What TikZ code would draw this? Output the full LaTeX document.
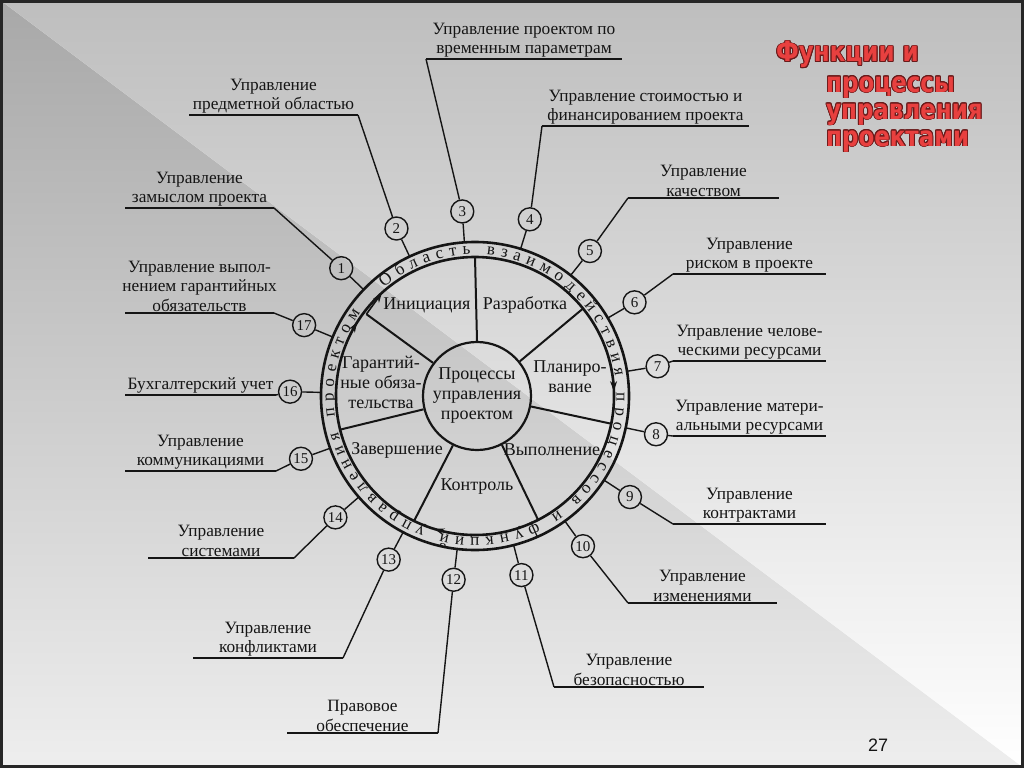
\documentclass[tikz,border=0pt]{standalone}
\usepackage{fontspec}
\setmainfont{Liberation Serif}
\newfontfamily\titlefont{DejaVu Sans}[FakeStretch=0.82]
\newfontfamily\pagenofont{Liberation Sans}
\usepackage[copies]{contour}
\contourlength{0.9pt}
\usetikzlibrary{decorations.text,arrows.meta,calc}
\definecolor{ink}{HTML}{151515}
\definecolor{titlered}{HTML}{E8403F}
\definecolor{titleedge}{HTML}{6A1A1A}
\definecolor{bgdark}{HTML}{A8A8A8}
\definecolor{bglow}{HTML}{EEEEEE}
\definecolor{bgtop}{HTML}{BEBEBE}
\newcommand{\lblfont}{\fontsize{17.3}{19.5}\selectfont}
\newcommand{\numfont}{\fontsize{15}{15}\selectfont}
\newcommand{\sectfont}{\fontsize{18}{20}\selectfont}
\newcommand{\ringfont}{\fontsize{17}{17}\selectfont}
\tikzset{
  lbl/.style={font=\lblfont, align=center, anchor=south, inner sep=0pt, text=ink},
  numc/.style={circle, draw=ink, line width=1.4pt, minimum size=23pt, inner sep=0pt, font=\numfont, text=ink},
  conn/.style={draw=ink, line width=1.4pt},
  uline/.style={draw=ink, line width=1.6pt},
  spoke/.style={draw=ink, line width=2pt},
  ringline/.style={draw=ink, line width=2.6pt},
  sect/.style={font=\sectfont, align=center, inner sep=0pt, text=ink},
  ttl/.style={font=\titlefont\bfseries\fontsize{28}{28}\selectfont, anchor=base west, inner sep=0pt, text=titlered},
  arrowtip/.style={draw=ink, line width=1.6pt, -{Stealth[length=10pt,width=7pt]}}
}
\newcommand{\outlabel}[6]{%
  \coordinate (uL#1) at (#2,-#4);
  \coordinate (uR#1) at (#3,-#4);
  \node[lbl] (L#1) at ({(#2+#3)/2},-#4+1.5) {#5};
  \draw[uline] (uL#1) -- (uR#1);
  \draw[conn] (c#1) -- (u#6#1);
}
\begin{document}
\begin{tikzpicture}[x=1pt,y=1pt]
\useasboundingbox (0,0) rectangle (1024,-768);
% background
\shade[top color=bgdark, bottom color=bglow] (0,0) -- (0,-768) -- (1024,-768) -- cycle;
\shade[top color=bgtop, bottom color=white] (0,0) -- (1024,0) -- (1024,-768) -- cycle;
\draw[line width=3pt, black!85] (1.5,-1.5) rectangle (1022.5,-766.5);

% title
\node[ttl] (t1) at (776,-62) {\contour{titleedge}{Функции и}};
\node[ttl] (t2) at (826,-92) {\contour{titleedge}{процессы}};
\node[ttl] (t3) at (826,-119) {\contour{titleedge}{управления}};
\node[ttl] (t4) at (826,-146) {\contour{titleedge}{проектами}};

% page number
\node[font=\pagenofont\fontsize{18}{18}\selectfont, text=ink] (pg) at (878,-745) {27};

% wheel
\begin{scope}[shift={(475,-396)}]
  \draw[ringline] (0,0) circle[radius=154];
  \draw[ringline] (0,0) circle[radius=139];
  \node[circle, draw=ink, line width=2.2pt, minimum size=108pt, inner sep=0pt, sect] (core) at (2,0) {Процессы\\управления\\проектом};
  \coordinate (s1) at (90:139);
  \coordinate (s2) at (39:139);
  \coordinate (s3) at (-11.5:139);
  \coordinate (s4) at (-63:139);
  \coordinate (s5) at (-116:139);
  \coordinate (s6) at (194:139);
  \coordinate (s7) at (143:136);
  \coordinate (s7tip) at (132:139);
  \draw[spoke] (core.90) -- (s1);
  \draw[spoke] (core.39) -- (s2);
  \draw[spoke] (core.-11.5) -- (s3);
  \draw[spoke] (core.-63) -- (s4);
  \draw[spoke] (core.-116) -- (s5);
  \draw[spoke] (core.194) -- (s6);
  \draw[spoke] (core.143) -- (s7);
  \draw[arrowtip] (s7) -- (s7tip);
  % arrows on inner ring
  \draw[arrowtip] (158:139) arc[start angle=158, end angle=148, radius=139];
  \draw[arrowtip] (12:139) arc[start angle=12, end angle=2, radius=139];
  \draw[arrowtip] (-97:139) arc[start angle=-97, end angle=-107, radius=139];
  % ring text
  \path[decorate, decoration={text along path, text align=fit to path,
     text={|\ringfont\color{ink}|Область взаимодействия процессов и функций управления проектом}}]
     (130:141.5) arc[start angle=130, end angle=-216, radius=141.5];
  % numbered circles
  \foreach \k in {1,...,17}{
    \pgfmathsetmacro{\ang}{136.3-(\k-1)*360/17}
    \node[numc] (c\k) at (\ang:185) {\k};
    \coordinate (r\k) at (\ang:154);
    \draw[conn] (c\k) -- (r\k);
  }
\end{scope}

% sector labels
\node[sect] (ini) at (427,-305) {Инициация};
\node[sect] (raz) at (525,-305) {Разработка};
\node[sect] (pla) at (570,-377) {Планиро-\\вание};
\node[sect] (vyp) at (552,-450) {Выполнение};
\node[sect] (kon) at (477,-487) {Контроль};
\node[sect] (zav) at (397,-450) {Завершение};
\node[sect] (gar) at (381,-382) {Гарантий-\\ные обяза-\\тельства};

% outer labels
\outlabel{1}{125}{274}{208}{Управление\\замыслом проекта}{R}
\outlabel{2}{189}{358}{115}{Управление\\предметной областью}{R}
\outlabel{3}{426}{622}{59}{Управление проектом по\\временным параметрам}{L}
\outlabel{4}{542}{749}{126}{Управление стоимостью и\\финансированием проекта}{L}
\outlabel{5}{628}{779}{198}{Управление\\качеством}{L}
\outlabel{6}{673}{826}{274}{Управление\\риском в проекте}{L}
\outlabel{7}{673}{826}{361}{Управление челове-\\ческими ресурсами}{L}
\outlabel{8}{673}{826}{436}{Управление матери-\\альными ресурсами}{L}
\outlabel{9}{673}{826}{524}{Управление\\контрактами}{L}
\outlabel{10}{628}{777}{603}{Управление\\изменениями}{L}
\outlabel{11}{554}{704}{687}{Управление\\безопасностью}{L}
\outlabel{12}{287}{438}{733}{Правовое\\обеспечение}{R}
\outlabel{13}{193}{343}{658}{Управление\\конфликтами}{R}
\outlabel{14}{148}{294}{558}{Управление\\системами}{R}
\outlabel{15}{125}{276}{471}{Управление\\коммуникациями}{R}
\outlabel{16}{125}{276}{395}{Бухгалтерский учет}{R}
\outlabel{17}{125}{274}{313}{Управление выпол-\\нением гарантийных\\обязательств}{R}
\end{tikzpicture}
\end{document}
